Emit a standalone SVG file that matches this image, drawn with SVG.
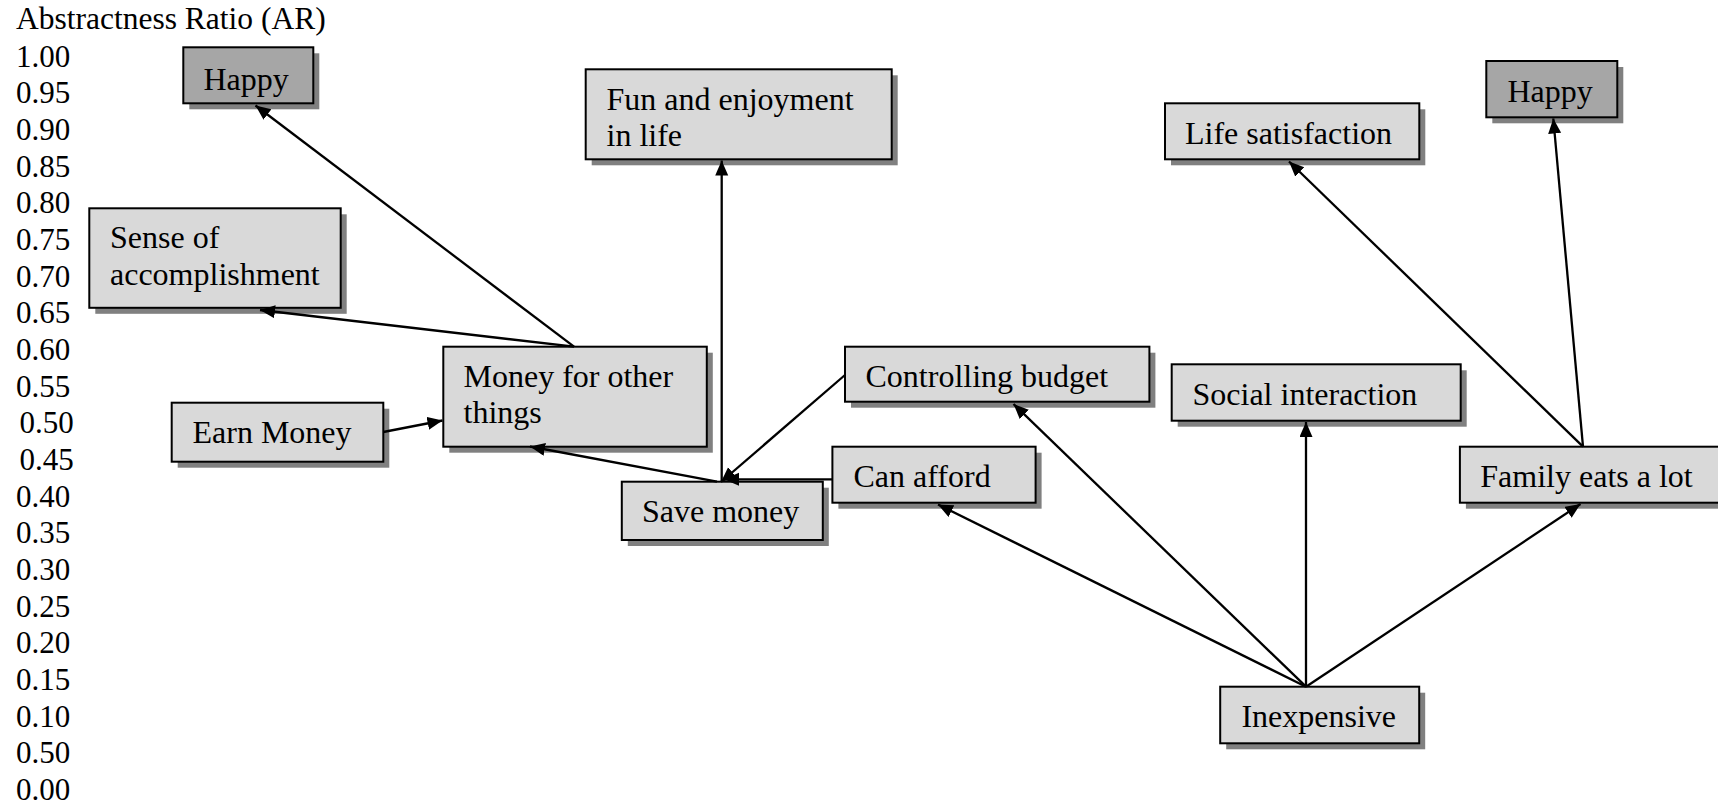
<svg xmlns="http://www.w3.org/2000/svg" width="1718" height="810" viewBox="0 0 1718 810">
  <style>
    text { font-family: "Liberation Serif", "Times New Roman", serif; fill: #000; }
    .lbl { font-size: 32px; }
    .axis { font-size: 31px; }
    .title { font-size: 31.5px; }
    .box { fill: #d9d9d9; stroke: #000; stroke-width: 2; }
    .box.dark { fill: #a6a6a6; }
    .shadow { fill: #808080; }
    .edge { stroke: #000; stroke-width: 2.3; fill: none; marker-end: url(#arrow); }
  </style>
  <defs>
    <marker id="arrow" markerUnits="userSpaceOnUse" markerWidth="17" markerHeight="14" refX="15" refY="6.5" orient="auto">
      <path d="M0,0 L15,6.5 L0,13 z" fill="#000"/>
    </marker>
  </defs>
  <rect width="1718" height="810" fill="#fff"/>

  <!-- vertical scale -->
  <g id="axis">
    <text class="title" x="16" y="29">Abstractness Ratio (AR)</text>
    <text class="axis" x="16" y="66.5">1.00</text>
    <text class="axis" x="16" y="103.2">0.95</text>
    <text class="axis" x="16" y="139.9">0.90</text>
    <text class="axis" x="16" y="176.5">0.85</text>
    <text class="axis" x="16" y="213.2">0.80</text>
    <text class="axis" x="16" y="249.9">0.75</text>
    <text class="axis" x="16" y="286.6">0.70</text>
    <text class="axis" x="16" y="323.3">0.65</text>
    <text class="axis" x="16" y="359.9">0.60</text>
    <text class="axis" x="16" y="396.6">0.55</text>
    <text class="axis" x="19.5" y="433.3">0.50</text>
    <text class="axis" x="19.5" y="470">0.45</text>
    <text class="axis" x="16" y="506.7">0.40</text>
    <text class="axis" x="16" y="543.3">0.35</text>
    <text class="axis" x="16" y="580">0.30</text>
    <text class="axis" x="16" y="616.7">0.25</text>
    <text class="axis" x="16" y="653.4">0.20</text>
    <text class="axis" x="16" y="690.1">0.15</text>
    <text class="axis" x="16" y="726.7">0.10</text>
    <text class="axis" x="16" y="763.4">0.50</text>
    <text class="axis" x="16" y="800.1">0.00</text>
  </g>

  <!-- nodes -->
  <g id="happy-left">
    <rect class="shadow" x="189.3" y="53.3" width="130" height="56"/>
    <rect class="box dark" x="183.3" y="47.3" width="130" height="56"/>
    <text class="lbl" x="203.5" y="90">Happy</text>
  </g>
  <g id="fun-and-enjoyment">
    <rect class="shadow" x="591.7" y="75.3" width="306" height="90"/>
    <rect class="box" x="585.7" y="69.3" width="306" height="90"/>
    <text class="lbl" x="606.5" y="109.5">Fun and enjoyment</text>
    <text class="lbl" x="606.5" y="146">in life</text>
  </g>
  <g id="life-satisfaction">
    <rect class="shadow" x="1171" y="109.3" width="254.3" height="56"/>
    <rect class="box" x="1165" y="103.3" width="254.3" height="56"/>
    <text class="lbl" x="1185" y="143.5">Life satisfaction</text>
  </g>
  <g id="happy-right">
    <rect class="shadow" x="1492.3" y="67" width="131" height="56.3"/>
    <rect class="box dark" x="1486.3" y="61" width="131" height="56.3"/>
    <text class="lbl" x="1507.5" y="101.5">Happy</text>
  </g>
  <g id="sense-of-accomplishment">
    <rect class="shadow" x="95.3" y="214.3" width="251.4" height="99.5"/>
    <rect class="box" x="89.3" y="208.3" width="251.4" height="99.5"/>
    <text class="lbl" x="110" y="248">Sense of</text>
    <text class="lbl" x="110" y="285">accomplishment</text>
  </g>
  <g id="money-for-other-things">
    <rect class="shadow" x="449.3" y="352.7" width="263.5" height="100"/>
    <rect class="box" x="443.3" y="346.7" width="263.5" height="100"/>
    <text class="lbl" x="463.5" y="386.5">Money for other</text>
    <text class="lbl" x="463.5" y="423">things</text>
  </g>
  <g id="earn-money">
    <rect class="shadow" x="177.7" y="408.7" width="211.6" height="59"/>
    <rect class="box" x="171.7" y="402.7" width="211.6" height="59"/>
    <text class="lbl" x="192.5" y="443">Earn Money</text>
  </g>
  <g id="controlling-budget">
    <rect class="shadow" x="851" y="352.7" width="304.4" height="55"/>
    <rect class="box" x="845" y="346.7" width="304.4" height="55"/>
    <text class="lbl" x="865.5" y="387">Controlling budget</text>
  </g>
  <g id="social-interaction">
    <rect class="shadow" x="1177.7" y="370.3" width="289" height="56.4"/>
    <rect class="box" x="1171.7" y="364.3" width="289" height="56.4"/>
    <text class="lbl" x="1192.5" y="404.5">Social interaction</text>
  </g>
  <g id="can-afford">
    <rect class="shadow" x="838.4" y="452.7" width="203.2" height="56"/>
    <rect class="box" x="832.4" y="446.7" width="203.2" height="56"/>
    <text class="lbl" x="853.5" y="487">Can afford</text>
  </g>
  <g id="save-money">
    <rect class="shadow" x="627.8" y="487.7" width="201" height="58.3"/>
    <rect class="box" x="621.8" y="481.7" width="201" height="58.3"/>
    <text class="lbl" x="642" y="522">Save money</text>
  </g>
  <g id="family-eats-a-lot">
    <rect class="shadow" x="1465.9" y="452.7" width="270" height="56"/>
    <rect class="box" x="1459.9" y="446.7" width="270" height="56"/>
    <text class="lbl" x="1480.3" y="486.5">Family eats a lot</text>
  </g>
  <g id="inexpensive">
    <rect class="shadow" x="1226.2" y="692.7" width="199" height="56.6"/>
    <rect class="box" x="1220.2" y="686.7" width="199" height="56.6"/>
    <text class="lbl" x="1241.4" y="727">Inexpensive</text>
  </g>

  <!-- connectors, drawn over the boxes so every arrowhead shows -->
  <g id="connectors">
    <line class="edge" x1="574" y1="346.7" x2="255.5" y2="105.5"/>
    <line class="edge" x1="574" y1="346.7" x2="260" y2="310"/>
    <line class="edge" x1="383.3" y1="432" x2="442.5" y2="420.5"/>
    <line class="edge" x1="717" y1="481.7" x2="530" y2="446.5"/>
    <line class="edge" x1="721.7" y1="481.7" x2="721.7" y2="160.5"/>
    <line class="edge" x1="845" y1="375" x2="721" y2="482"/>
    <line class="edge" x1="832.4" y1="479.3" x2="724" y2="479.3"/>
    <line class="edge" x1="1306" y1="686.7" x2="938" y2="504.5"/>
    <line class="edge" x1="1306" y1="686.7" x2="1013.5" y2="404"/>
    <line class="edge" x1="1306" y1="686.7" x2="1306" y2="422"/>
    <line class="edge" x1="1306" y1="686.7" x2="1580.5" y2="504"/>
    <line class="edge" x1="1583" y1="446.7" x2="1289" y2="161.5"/>
    <line class="edge" x1="1583" y1="446.7" x2="1553.3" y2="118.5"/>
  </g>
</svg>
